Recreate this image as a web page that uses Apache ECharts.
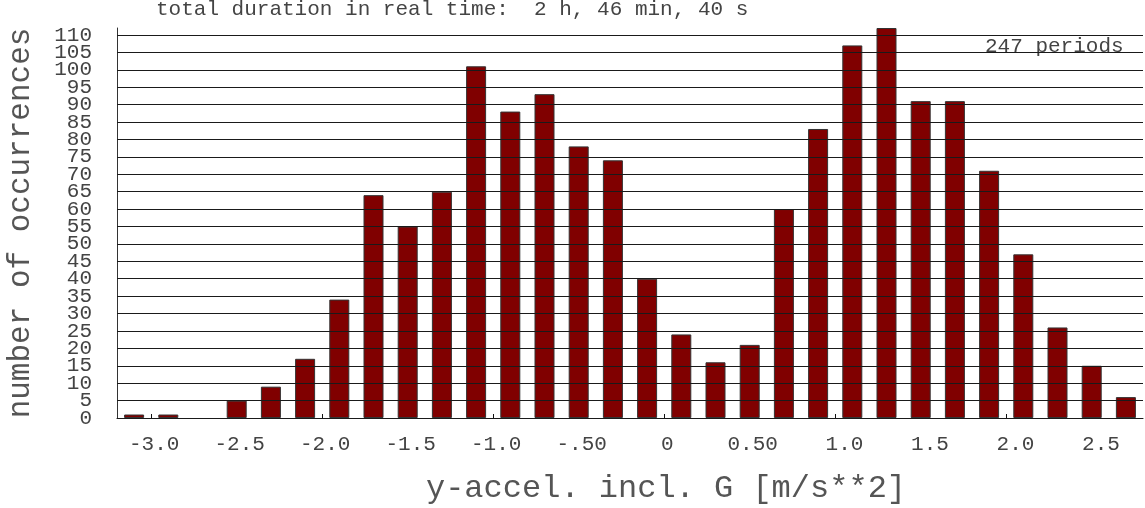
<!DOCTYPE html>
<html>
<head>
<meta charset="utf-8">
<style>
  html, body { margin: 0; padding: 0; background: #ffffff; }
  #chart { width: 1145px; height: 508px; }
</style>
<script src="https://cdn.jsdelivr.net/npm/echarts@6/dist/echarts.min.js"></script>
</head>
<body>
<div id="chart"></div>
<script>
// Histogram of lateral acceleration: bin centres (m/s**2) and counts per bin
const binCenters = [-3.1, -2.9, -2.7, -2.5, -2.3, -2.1, -1.9, -1.7, -1.5, -1.3,
                    -1.1, -0.9, -0.7, -0.5, -0.3, -0.1, 0.1, 0.3, 0.5, 0.7,
                    0.9, 1.1, 1.3, 1.5, 1.7, 1.9, 2.1, 2.3, 2.5, 2.7];
const counts = [1, 1, 0, 5, 9, 17, 34, 64, 55, 65,
                101, 88, 93, 78, 74, 40, 24, 16, 21, 60,
                83, 107, 112, 91, 91, 71, 47, 26, 15, 6];

// Axis ticks and their printed labels
const xTickValues = [-3.0, -2.5, -2.0, -1.5, -1.0, -0.5, 0, 0.5, 1.0, 1.5, 2.0, 2.5];
const xTickLabels = ['-3.0', '-2.5', '-2.0', '-1.5', '-1.0', '-.50', '0', '0.50', '1.0', '1.5', '2.0', '2.5'];
const yTickValues = [0, 5, 10, 15, 20, 25, 30, 35, 40, 45, 50, 55,
                     60, 65, 70, 75, 80, 85, 90, 95, 100, 105, 110];

const headerText = 'total duration in real time:  2 h, 46 min, 40 s';
const periodsText = '247 periods';
const xTitle = 'y-accel. incl. G [m/s**2]';
const yTitle = 'number of occurrences';

const FONT = '"Liberation Mono", "DejaVu Sans Mono", monospace';
const TEXT_COLOR = '#444';
const TITLE_COLOR = '#555';

const chart = echarts.init(document.getElementById('chart'), null, { renderer: 'canvas' });

// empty bins get no outline so nothing is drawn for them
const barData = binCenters.map((x, i) => (
  counts[i] === 0
    ? { value: [x, counts[i]], itemStyle: { borderWidth: 0, opacity: 0 } }
    : { value: [x, counts[i]] }
));

chart.setOption({
  animation: false,
  backgroundColor: '#ffffff',
  grid: { left: 117, right: 2, top: 28, bottom: 90, containLabel: false, outerBoundsMode: 'none' },
  graphic: [
    {
      type: 'text', left: 156, top: -1, silent: true,
      style: { text: headerText, font: '21px ' + FONT, fill: TEXT_COLOR }
    },
    {
      type: 'text', left: 985, top: 36, silent: true, z: 0,
      style: { text: periodsText, font: '21px ' + FONT, fill: TEXT_COLOR }
    }
  ],
  xAxis: {
    type: 'value',
    min: -3.2,
    max: 2.8,
    name: xTitle,
    nameLocation: 'middle',
    nameGap: 55,
    nameTextStyle: { fontFamily: FONT, fontSize: 32, color: TITLE_COLOR, padding: [0, 0, 0, 72] },
    axisLine: { show: true, onZero: false, lineStyle: { color: '#111', width: 1 } },
    axisTick: { show: true, inside: true, length: 4, customValues: xTickValues,
                lineStyle: { color: '#111' } },
    axisLabel: {
      customValues: xTickValues,
      fontFamily: FONT, fontSize: 21, color: TEXT_COLOR, margin: 16,
      padding: [0, 0, 0, 6],
      hideOverlap: false,
      showMinLabel: true, showMaxLabel: true,
      formatter: function (v) {
        const i = xTickValues.findIndex(t => Math.abs(t - v) < 1e-9);
        if (i < 0) return '';
        const s = xTickLabels[i];
        return s.length === 3 ? ' ' + s : s;
      }
    },
    splitLine: { show: false }
  },
  yAxis: {
    type: 'value',
    min: 0,
    max: 112,
    name: yTitle,
    nameLocation: 'middle',
    nameRotate: 90,
    nameGap: 81,
    nameTextStyle: { fontFamily: FONT, fontSize: 31, color: TITLE_COLOR },
    axisLine: { show: true, onZero: false, lineStyle: { color: '#333', width: 1 } },
    axisTick: { show: false },
    // the count labels are printed at the left end of each grid line below
    axisLabel: { show: false },
    splitLine: { show: false }
  },
  series: [
    {
      type: 'bar',
      data: barData,
      barWidth: 20,
      itemStyle: { color: '#800000', borderColor: '#333', borderWidth: 1 },
      markLine: {
        silent: true,
        symbol: ['none', 'none'],
        label: {
          show: true,
          position: 'start',
          distance: 25,
          formatter: p => String(p.value),
          fontFamily: FONT,
          fontSize: 21,
          color: TEXT_COLOR
        },
        lineStyle: { color: '#1a1a1a', width: 1.2, type: 'solid' },
        emphasis: { disabled: true },
        data: yTickValues.map(v => ({ yAxis: v }))
      }
    }
  ]
});
</script>
</body>
</html>
